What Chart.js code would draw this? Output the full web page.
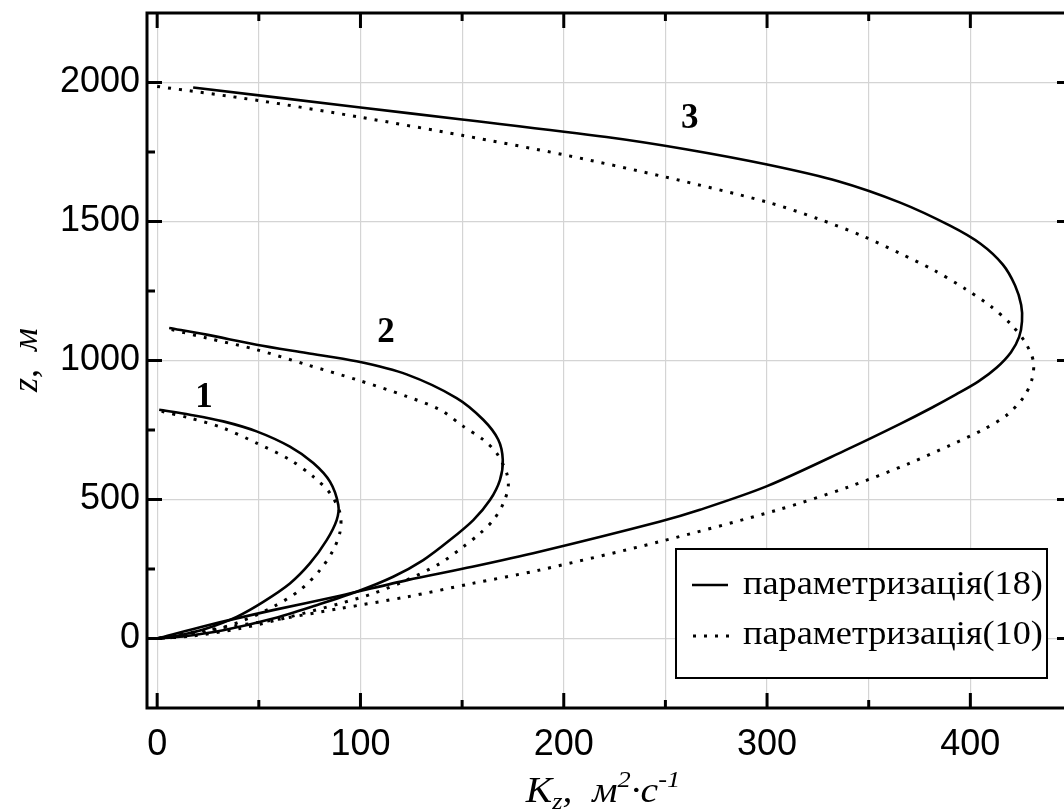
<!DOCTYPE html>
<html><head><meta charset="utf-8">
<script src="https://cdn.jsdelivr.net/npm/chart.js@4"></script>
<style>
html,body{margin:0;padding:0;overflow:hidden;background:#fff;width:1064px;height:810px}
#wrap{position:absolute;left:0;top:0;width:1090px;height:810px}
</style>
</head><body><div id="wrap"><canvas id="c" width="1090" height="810"></canvas></div>
<script>
// ---- tick values ----
const xTickValues = [0, 50, 100, 150, 200, 250, 300, 350, 400];
const xLabelValues = [0, 100, 200, 300, 400];
const yTickValues = [0, 500, 1000, 1500, 2000];
const ySpineTicks = [250, 500, 750, 1000, 1250, 1500, 1750, 2000, 0];

// ---- series: curve 1 ----
const c1SolidK = [1.0, 16.1, 32.5, 48.9, 65.3, 76.8, 85.0, 89.1, 88.3, 83.4, 75.1, 65.3, 52.2, 39.1, 24.3, 11.2, 0];
const c1SolidZ = [823, 805, 781, 745, 690, 631, 564, 480, 426, 354, 270, 198, 132, 78, 36, 12, 0];
const c1DotK = [2.2, 16.1, 32.5, 48.9, 65.3, 76.8, 85.0, 90.0, 90.0, 86.6, 80.1, 70.2, 57.1, 40.7, 24.3, 7.9, 0];
const c1DotZ = [817, 793, 757, 703, 643, 582, 523, 450, 385, 318, 246, 174, 114, 60, 24, 4, 0];

// ---- curve 2 ----
const c2SolidK = [5.9, 24.3, 48.9, 73.5, 98.1, 122.7, 147.3, 160.4, 167.8, 170.0, 168.6, 163.7, 155.5, 144.0, 130.9, 116.1, 98.1, 78.4, 57.1, 32.5, 11.2, 0];
const c2SolidZ = [1117, 1093, 1057, 1027, 997, 950, 865, 787, 715, 643, 570, 498, 426, 354, 282, 222, 168, 120, 72, 30, 6, 0];
const c2DotK = [7.1, 24.3, 48.9, 73.5, 98.1, 122.7, 139.1, 150.6, 160.4, 167.0, 171.9, 172.7, 170.3, 165.4, 158.8, 150.6, 139.1, 122.7, 106.3, 89.9, 65.3, 40.7, 16.1, 0];
const c2DotZ = [1111, 1081, 1039, 985, 931, 871, 823, 763, 715, 667, 595, 546, 486, 426, 378, 330, 270, 210, 162, 126, 78, 36, 8, 0];

// ---- curve 3 ----
const c3SolidK = [17.7, 99, 150, 221, 260, 300, 335, 365.5, 390, 405, 416, 422, 425, 425.4, 424, 420, 413, 404, 393, 381, 365.5, 340, 300, 267, 247, 188, 155, 123, 90, 57, 24, 0];
const c3SolidZ = [1982, 1911, 1867, 1804, 1760, 1705, 1645, 1568, 1485, 1420, 1345, 1270, 1200, 1141, 1085, 1030, 975, 925, 878, 830, 772, 682, 548, 463, 420, 312, 258, 210, 154, 102, 46, 0];
const c3DotK = [0, 50, 100, 150, 200, 250, 300, 325, 347, 365.5, 382, 397, 410, 420, 427, 431, 430.3, 426.2, 418, 406.5, 390, 370, 340, 305, 247, 188, 155, 123, 90, 57, 24, 0];
const c3DotZ = [1986, 1935, 1875, 1810, 1740, 1660, 1570, 1510, 1448, 1385, 1325, 1260, 1195, 1130, 1065, 997, 932, 868, 804, 752, 695, 630, 545, 462, 348, 246, 198, 150, 108, 66, 30, 0];

const legendLabels = ['параметризація(18)', 'параметризація(10)'];
const curveLabels = ['1', '2', '3'];
const curveLabelPos = [[23, 866], [112.6, 1100], [262, 1868]]; // data coords of labels

function pts(k, z) { return k.map((v, i) => ({ x: v, y: z[i] })); }
const solidStyle = { borderColor: '#000', borderWidth: 2.6, pointRadius: 0, showLine: true, tension: 0.3, fill: false };
const dotStyle = { borderColor: '#000', borderWidth: 3, borderDash: [3, 8], pointRadius: 0, showLine: true, tension: 0.3, fill: false };

const datasets = [
  Object.assign({ label: legendLabels[0], data: pts(c1SolidK, c1SolidZ) }, solidStyle),
  Object.assign({ label: legendLabels[1], data: pts(c1DotK, c1DotZ) }, dotStyle),
  Object.assign({ label: legendLabels[0], data: pts(c2SolidK, c2SolidZ) }, solidStyle),
  Object.assign({ label: legendLabels[1], data: pts(c2DotK, c2DotZ) }, dotStyle),
  Object.assign({ label: legendLabels[0], data: pts(c3SolidK, c3SolidZ) }, solidStyle),
  Object.assign({ label: legendLabels[1], data: pts(c3DotK, c3DotZ) }, dotStyle),
];

function stretchText(ctx, text, x, y, stretch) {
  ctx.save(); ctx.translate(x, y); ctx.scale(stretch, 1); ctx.fillText(text, 0, 0); ctx.restore();
  return ctx.measureText(text).width * stretch;
}

const decor = {
  id: 'decor',
  afterDatasetsDraw(chart) {
    const { ctx, chartArea: a, scales: { x, y } } = chart;
    ctx.save();
    ctx.strokeStyle = '#000'; ctx.lineCap = 'butt';
    ctx.lineWidth = 3;
    const seg = (x1, y1, x2, y2) => { ctx.beginPath(); ctx.moveTo(x1, y1); ctx.lineTo(x2, y2); ctx.stroke(); };
    xTickValues.forEach(v => {
      const px = x.getPixelForValue(v); const L = v % 100 === 0 ? 15 : 8;
      seg(px, a.bottom, px, a.bottom - L); seg(px, a.top, px, a.top + L);
    });
    ySpineTicks.forEach(v => {
      const py = y.getPixelForValue(v); const L = v % 500 === 0 ? 15 : 8;
      seg(a.left, py, a.left + L, py); seg(a.right, py, a.right - L, py);
    });
    ctx.lineWidth = 3;
    ctx.strokeRect(a.left, a.top, a.right - a.left, a.bottom - a.top);

    // curve labels
    ctx.fillStyle = '#000';
    ctx.font = 'bold 35px "Liberation Serif"';
    ctx.textAlign = 'center'; ctx.textBaseline = 'middle';
    curveLabels.forEach((t, i) => {
      ctx.fillText(t, x.getPixelForValue(curveLabelPos[i][0]), y.getPixelForValue(curveLabelPos[i][1]));
    });

    // legend box
    const bx = 676, by = 549, bw = 371, bh = 129;
    ctx.fillStyle = '#fff'; ctx.fillRect(bx, by, bw, bh);
    ctx.lineWidth = 2; ctx.strokeStyle = '#000'; ctx.strokeRect(bx, by, bw, bh);
    ctx.lineWidth = 2.6; seg(692, 585, 728, 585);
    ctx.lineWidth = 3; ctx.setLineDash([3, 8]); seg(693, 636, 731, 636); ctx.setLineDash([]);
    ctx.fillStyle = '#000'; ctx.font = '33px "Liberation Serif"';
    ctx.textAlign = 'left'; ctx.textBaseline = 'alphabetic';
    stretchText(ctx, legendLabels[0], 743, 594, 1.1);
    stretchText(ctx, legendLabels[1], 743, 644, 1.1);

    // x-axis title: K_z,  м^2·с^-1
    const parts = [
      ['K', 36, 0], ['z', 24, 7], [',  м', 36, 0], ['2', 24, -15], ['·с', 36, 0], ['-1', 24, -15]
    ];
    let total = 0;
    parts.forEach(p => { ctx.font = 'italic ' + p[1] + 'px "Liberation Serif"'; total += ctx.measureText(p[0]).width * 1.1; });
    let cx = 603 - total / 2; const base = 802;
    parts.forEach(p => { ctx.font = 'italic ' + p[1] + 'px "Liberation Serif"'; cx += stretchText(ctx, p[0], cx, base + p[2], 1.1); });

    // y-axis title
    ctx.save(); ctx.translate(37, 360); ctx.rotate(-Math.PI / 2);
    ctx.font = 'italic 36px "Liberation Serif"'; ctx.textAlign = 'center';
    ctx.fillText('z,  м', 0, 0);
    ctx.restore();
    ctx.restore();
  }
};

new Chart(document.getElementById('c'), {
  type: 'scatter',
  data: { datasets },
  options: {
    responsive: false, animation: false, devicePixelRatio: 1,
    layout: { padding: { top: 13, right: 18, left: 0, bottom: 0 } },
    plugins: { legend: { display: false }, tooltip: { enabled: false } },
    scales: {
      x: {
        type: 'linear', min: -5, max: 450,
        afterBuildTicks: s => { s.ticks = xTickValues.map(v => ({ value: v })); },
        afterFit: s => { s.height = 102; s.paddingLeft = 0; s.paddingRight = 0; },
        grid: { color: '#d4d4d4', lineWidth: 1.2, drawTicks: false },
        border: { display: false },
        ticks: {
          padding: 15, color: '#000', maxRotation: 0, autoSkip: false,
          font: { family: '"Liberation Sans"', size: 36 },
          callback: v => (xLabelValues.includes(v) ? String(v) : '')
        }
      },
      y: {
        type: 'linear', min: -250, max: 2250,
        afterBuildTicks: s => { s.ticks = yTickValues.map(v => ({ value: v })); },
        afterFit: s => { s.width = 147; s.paddingTop = 0; s.paddingBottom = 0; },
        grid: { color: '#d4d4d4', lineWidth: 1.2, drawTicks: false },
        border: { display: false },
        ticks: {
          padding: 7, color: '#000', autoSkip: false,
          font: { family: '"Liberation Sans"', size: 36 },
          callback: v => String(v)
        }
      }
    }
  },
  plugins: [decor]
});
</script>
</body></html>
